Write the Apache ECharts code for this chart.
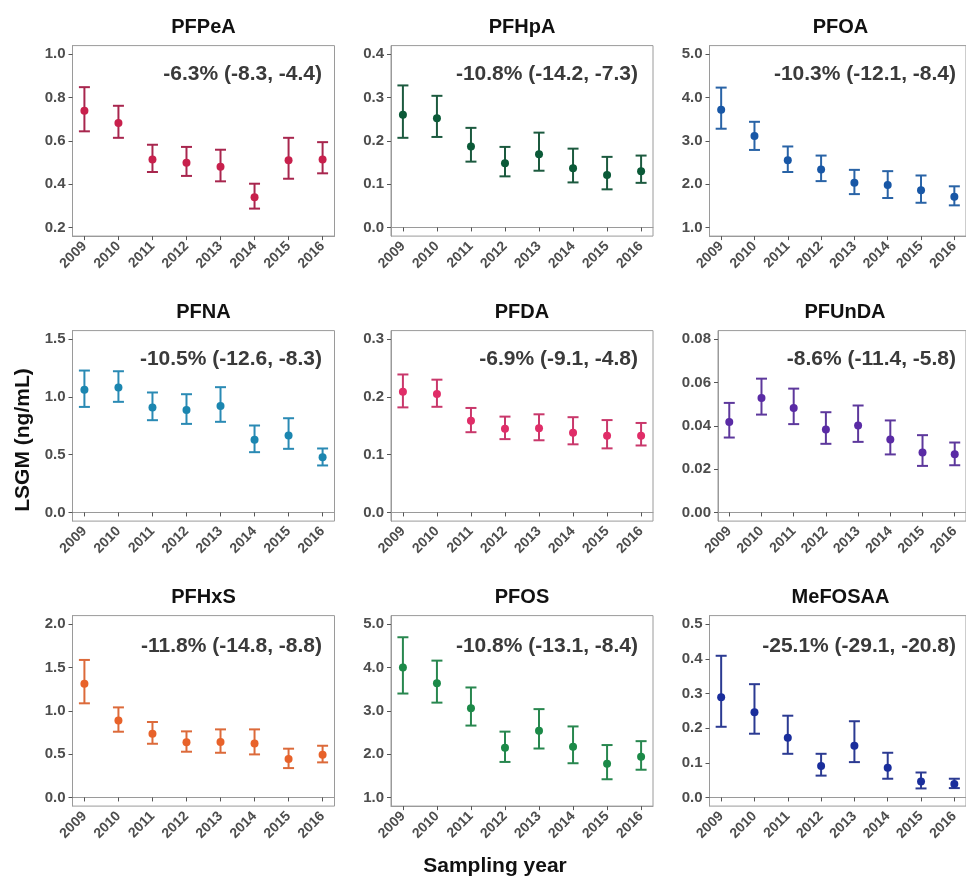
<!DOCTYPE html>
<html>
<head>
<meta charset="utf-8">
<title>LSGM by sampling year</title>
<script src="https://cdn.jsdelivr.net/npm/echarts@6/dist/echarts.min.js"></script>
<style>
  html, body { margin: 0; padding: 0; background: #fff; }
  #wrap { position: relative; width: 966px; height: 879px; overflow: hidden; }
  .layer { position: absolute; left: 0; top: 0; width: 966px; height: 879px; }
</style>
</head>
<body>
<div id="wrap"></div>
<script>
// sampling years (x axis)
var years = [2009, 2010, 2011, 2012, 2013, 2014, 2015, 2016];

// LSGM and 95% CI per compound (ng/mL)
var pfpeaGM = [0.739, 0.683, 0.514, 0.499, 0.480, 0.339, 0.510, 0.514];
var pfpeaLo = [0.644, 0.614, 0.456, 0.438, 0.413, 0.287, 0.425, 0.450];
var pfpeaHi = [0.848, 0.762, 0.582, 0.572, 0.559, 0.402, 0.614, 0.594];

var pfhpaGM = [0.260, 0.252, 0.187, 0.148, 0.169, 0.137, 0.121, 0.130];
var pfhpaLo = [0.207, 0.209, 0.152, 0.118, 0.131, 0.104, 0.088, 0.103];
var pfhpaHi = [0.328, 0.304, 0.230, 0.186, 0.219, 0.182, 0.163, 0.166];

var pfoaGM = [3.72, 3.11, 2.55, 2.34, 2.03, 1.98, 1.86, 1.71];
var pfoaLo = [3.28, 2.79, 2.28, 2.07, 1.77, 1.68, 1.57, 1.51];
var pfoaHi = [4.23, 3.44, 2.87, 2.66, 2.33, 2.30, 2.20, 1.95];

var pfnaGM = [1.062, 1.082, 0.909, 0.888, 0.923, 0.629, 0.666, 0.479];
var pfnaLo = [0.914, 0.958, 0.799, 0.767, 0.785, 0.522, 0.551, 0.407];
var pfnaHi = [1.229, 1.223, 1.039, 1.024, 1.085, 0.753, 0.816, 0.554];

var pfdaGM = [0.209, 0.205, 0.159, 0.145, 0.146, 0.138, 0.133, 0.133];
var pfdaLo = [0.182, 0.183, 0.139, 0.127, 0.125, 0.118, 0.111, 0.116];
var pfdaHi = [0.239, 0.230, 0.181, 0.166, 0.170, 0.165, 0.160, 0.155];

var pfundaGM = [0.0418, 0.0529, 0.0482, 0.0383, 0.0402, 0.0337, 0.0277, 0.0269];
var pfundaLo = [0.0346, 0.0452, 0.0408, 0.0317, 0.0326, 0.0268, 0.0215, 0.0218];
var pfundaHi = [0.0506, 0.0618, 0.0572, 0.0463, 0.0494, 0.0425, 0.0357, 0.0323];

var pfhxsGM = [1.314, 0.890, 0.736, 0.636, 0.640, 0.624, 0.443, 0.493];
var pfhxsLo = [1.087, 0.759, 0.620, 0.528, 0.516, 0.497, 0.339, 0.405];
var pfhxsHi = [1.588, 1.040, 0.871, 0.763, 0.786, 0.786, 0.563, 0.597];

var pfosGM = [4.00, 3.64, 3.06, 2.15, 2.54, 2.17, 1.78, 1.94];
var pfosLo = [3.40, 3.19, 2.66, 1.82, 2.13, 1.79, 1.42, 1.64];
var pfosHi = [4.70, 4.16, 3.54, 2.52, 3.04, 2.64, 2.21, 2.30];

var mefosaaGM = [0.289, 0.246, 0.172, 0.091, 0.149, 0.086, 0.046, 0.039];
var mefosaaLo = [0.204, 0.184, 0.126, 0.063, 0.102, 0.054, 0.026, 0.027];
var mefosaaHi = [0.409, 0.327, 0.236, 0.126, 0.220, 0.129, 0.072, 0.054];

// panel names and trend annotations
var panelNames = ["PFPeA", "PFHpA", "PFOA", "PFNA", "PFDA", "PFUnDA", "PFHxS", "PFOS", "MeFOSAA"];
var trendText = [
  "-6.3% (-8.3, -4.4)", "-10.8% (-14.2, -7.3)", "-10.3% (-12.1, -8.4)",
  "-10.5% (-12.6, -8.3)", "-6.9% (-9.1, -4.8)", "-8.6% (-11.4, -5.8)",
  "-11.8% (-14.8, -8.8)", "-10.8% (-13.1, -8.4)", "-25.1% (-29.1, -20.8)"
];

// y tick labels per panel
var yTicks = [
  [0.2, 0.4, 0.6, 0.8, 1.0],
  [0.0, 0.1, 0.2, 0.3, 0.4],
  [1.0, 2.0, 3.0, 4.0, 5.0],
  [0.0, 0.5, 1.0, 1.5],
  [0.0, 0.1, 0.2, 0.3],
  [0.00, 0.02, 0.04, 0.06, 0.08],
  [0.0, 0.5, 1.0, 1.5, 2.0],
  [1.0, 2.0, 3.0, 4.0, 5.0],
  [0.0, 0.1, 0.2, 0.3, 0.4, 0.5]
];
var yDecimals = [1, 1, 1, 1, 1, 2, 1, 1, 1];

var gmList = [pfpeaGM, pfhpaGM, pfoaGM, pfnaGM, pfdaGM, pfundaGM, pfhxsGM, pfosGM, mefosaaGM];
var loList = [pfpeaLo, pfhpaLo, pfoaLo, pfnaLo, pfdaLo, pfundaLo, pfhxsLo, pfosLo, mefosaaLo];
var hiList = [pfpeaHi, pfhpaHi, pfoaHi, pfnaHi, pfdaHi, pfundaHi, pfhxsHi, pfosHi, mefosaaHi];

var pointColors = ["#C8204C", "#0B5A38", "#1857A6", "#1B86B0", "#E02D68", "#5A2BA5", "#E8622A", "#1C8A48", "#1A2E9C"];
var barColors = ["#A8264E", "#1C5A3F", "#2963A6", "#2A8AB4", "#C9386B", "#5D389C", "#DC6A3A", "#28874F", "#2B3A92"];

var FONT = "'Liberation Sans', Arial, Helvetica, sans-serif";

// layout of the 3x3 panels (px)
var colLeft = [72.5, 391, 709.5];
var rowTop = [45.6, 330.6, 615.6];
var panelW = 262;
var panelH = 190.5;

// error bar: vertical line + two caps
function makeBarRenderer(col) {
  return function (params, api) {
    var x = api.value(0);
    var a = api.coord([x, api.value(1)]);
    var b = api.coord([x, api.value(2)]);
    var hw = 5.5;
    return {
      type: "group",
      children: [
        { type: "line", shape: { x1: a[0], y1: a[1], x2: b[0], y2: b[1] }, style: { stroke: col, lineWidth: 2 } },
        { type: "line", shape: { x1: a[0] - hw, y1: a[1], x2: a[0] + hw, y2: a[1] }, style: { stroke: col, lineWidth: 2 } },
        { type: "line", shape: { x1: b[0] - hw, y1: b[1], x2: b[0] + hw, y2: b[1] }, style: { stroke: col, lineWidth: 2 } }
      ]
    };
  };
}

// one chart per panel (a single chart with 9 grids overflowed the stack in v6)
function panelOption(p) {
  var r = Math.floor(p / 3), c = p % 3;
  var left = colLeft[c], width = panelW;
  if (p === 5) { left = 718; width = 254; } // wider tick labels shrink this panel
  var top = rowTop[r];
  var t = yTicks[p];
  var span = t[t.length - 1] - t[0];
  var dec = yDecimals[p];
  return {
    animation: false,
    grid: { left: left, top: top, width: width, height: panelH, show: true, borderColor: "#9a9a9a", borderWidth: 1 },
    xAxis: {
      type: "value", min: 2008.65, max: 2016.35,
      axisLine: { show: true, lineStyle: { color: "#9a9a9a", width: 1 } },
      axisTick: { show: true, length: 4, customValues: years.slice(), lineStyle: { color: "#555" } },
      axisLabel: {
        customValues: years.slice(), rotate: 45, margin: 8,
        color: "#4d4d4d", fontFamily: FONT, fontWeight: "bold", fontSize: 14,
        formatter: function (v) { return String(Math.round(v)); }
      },
      splitLine: { show: false }
    },
    yAxis: {
      type: "value",
      min: +(t[0] - span * 0.05).toFixed(5), max: +(t[t.length - 1] + span * 0.05).toFixed(5),
      axisLine: { show: true, lineStyle: { color: "#9a9a9a", width: 1 } },
      axisTick: { show: true, length: 4, customValues: t.slice(), lineStyle: { color: "#555" } },
      axisLabel: {
        customValues: t.slice(), margin: 7,
        color: "#4d4d4d", fontFamily: FONT, fontWeight: "bold", fontSize: 15,
        formatter: function (v) { return Number(v).toFixed(dec); }
      },
      splitLine: { show: false }
    },
    series: [
      {
        type: "custom",
        data: years.map(function (y, i) { return [y, loList[p][i], hiList[p][i]]; }),
        encode: { x: 0, y: [1, 2] }, silent: true, z: 2,
        renderItem: makeBarRenderer(barColors[p])
      },
      {
        type: "scatter",
        data: years.map(function (y, i) { return [y, gmList[p][i]]; }),
        symbol: "circle", symbolSize: 8,
        itemStyle: { color: pointColors[p], opacity: 1 },
        silent: true, z: 3
      }
    ],
    graphic: [
      {
        type: "text", x: left + width / 2, y: top - 18,
        style: { text: panelNames[p], align: "center", verticalAlign: "middle", font: "bold 20px " + FONT, fill: "#111" }
      },
      {
        type: "text", x: [322, 638, 956][c], y: top + (r === 2 ? 31 : 29),
        style: { text: trendText[p], align: "right", verticalAlign: "middle", font: "bold 21px " + FONT, fill: "#3a3a3a" }
      }
    ]
  };
}

var wrap = document.getElementById("wrap");
for (var p = 0; p < 9; p++) {
  var d = document.createElement("div");
  d.className = "layer";
  wrap.appendChild(d);
  echarts.init(d).setOption(panelOption(p));
}

// shared axis titles
var td = document.createElement("div");
td.className = "layer";
wrap.appendChild(td);
echarts.init(td).setOption({
  graphic: [
    {
      type: "text", x: 23, y: 440, rotation: Math.PI / 2,
      style: { text: "LSGM (ng/mL)", align: "center", verticalAlign: "middle", font: "bold 21px " + FONT, fill: "#111" }
    },
    {
      type: "text", x: 495, y: 866,
      style: { text: "Sampling year", align: "center", verticalAlign: "middle", font: "bold 21px " + FONT, fill: "#111" }
    }
  ]
});
</script>
</body>
</html>
